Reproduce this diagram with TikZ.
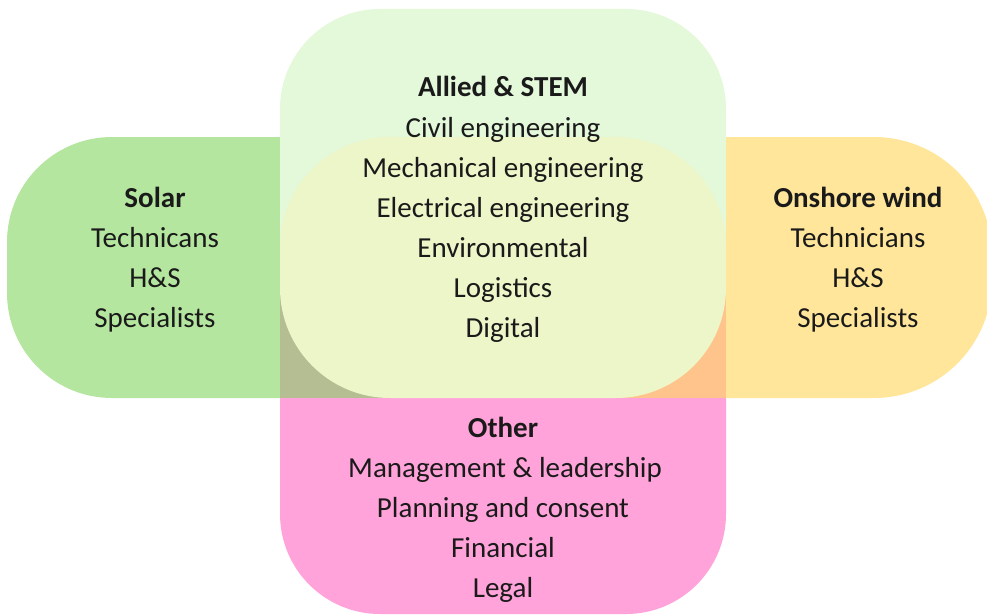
\documentclass[tikz,border=0pt]{standalone}
\usepackage{fontspec}
\setmainfont{Carlito}
\begin{document}
\definecolor{solarfill}{RGB}{181,230,160}
\definecolor{windfill}{RGB}{255,230,155}
\definecolor{alliedfill}{RGB}{228,248,218}
\definecolor{otherfill}{RGB}{255,163,218}
\definecolor{corefill}{RGB}{237,246,200}
\definecolor{olivefill}{RGB}{180,190,146}
\definecolor{orangefill}{RGB}{255,196,140}
\definecolor{inkcolor}{RGB}{26,26,26}
\begin{tikzpicture}[x=1pt,y=-1pt,
  blob/.style={rounded corners=#1},
  item/.style={anchor=base,inner sep=0pt,text=inkcolor,
    font=\fontsize{29}{35}\selectfont},
  head/.style={item,font=\fontsize{29}{35}\selectfont\bfseries}]
\useasboundingbox (0,0) rectangle (987,615);
\begin{scope}
\clip (0,0) rectangle (987,615);
% outer petals (their hidden ends run under the centre block)
\fill[alliedfill,blob=100pt] (280,9) rectangle (726,500);
\fill[solarfill,blob=105pt] (7,137) rectangle (420,398);
\fill[windfill,blob=118pt] (590,137) rectangle (992,398);
\fill[otherfill,blob=100pt] (280,300) rectangle (726,614);
% centre block: overlap corners, then the common core
\fill[alliedfill] (280,137) rectangle (726,398);
\fill[olivefill] (280,268) rectangle (503,398);
\fill[orangefill] (503,268) rectangle (726,398);
\fill[corefill,blob=110pt] (280,137) rectangle (726,398);
\end{scope}
% Allied & STEM
\node[head] (allied) at (503,97) {Allied \& STEM};
\node[item] (civil) at (503,137) {Civil engineering};
\node[item] (mech) at (503,177) {Mechanical engineering};
\node[item] (elec) at (503,217) {Electrical engineering};
\node[item] (env) at (503,257) {Environmental};
\node[item] (logi) at (503,297) {Logistics};
\node[item] (digi) at (503,337) {Digital};
% Solar
\node[head] (solar) at (155,207) {Solar};
\node[item] (soltech) at (155,247) {Technicans};
\node[item] (solhs) at (155,287) {H\&S};
\node[item] (solspec) at (155,327) {Specialists};
% Onshore wind
\node[head] (wind) at (858,207) {Onshore wind};
\node[item] (windtech) at (858,247) {Technicians};
\node[item] (windhs) at (858,287) {H\&S};
\node[item] (windspec) at (858,327) {Specialists};
% Other
\node[head] (other) at (503,437) {Other};
\node[item] (mgmt) at (505,477) {Management \& leadership};
\node[item] (plan) at (503,517) {Planning and consent};
\node[item] (fin) at (503,557) {Financial};
\node[item] (legal) at (503,597) {Legal};
\end{tikzpicture}
\end{document}
